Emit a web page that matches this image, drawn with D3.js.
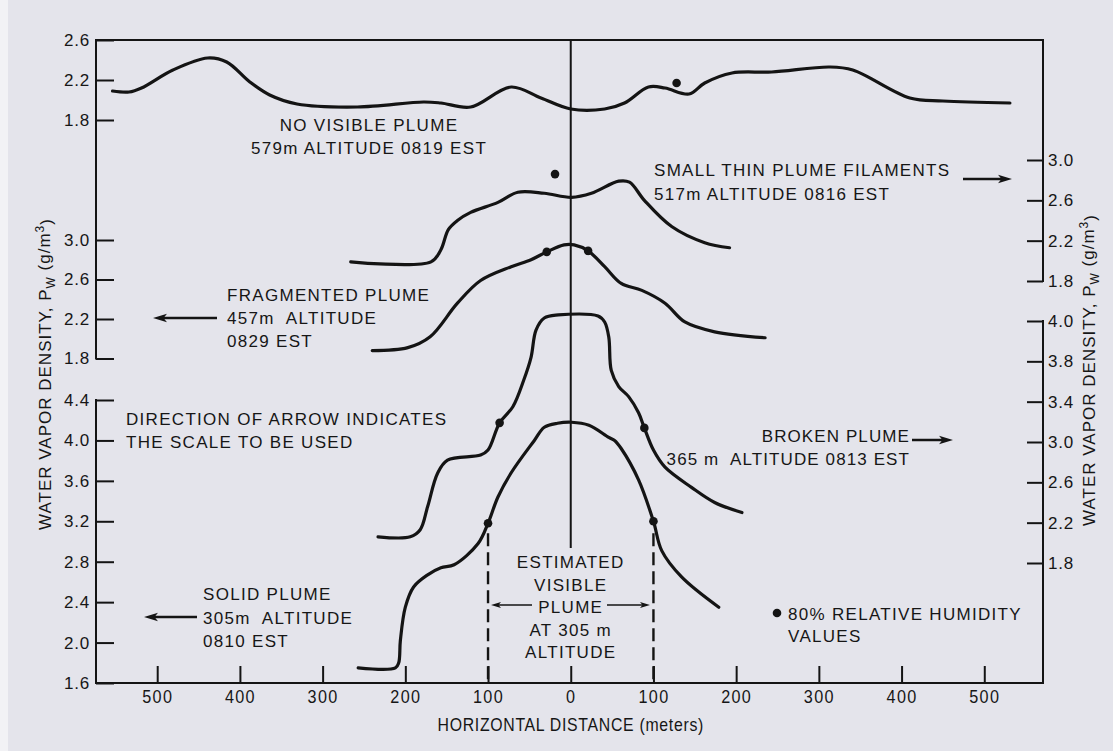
<!DOCTYPE html>
<html><head><meta charset="utf-8">
<script src="https://cdn.jsdelivr.net/npm/d3@7"></script>
<style>
html,body{margin:0;padding:0;background:#e4e4eb;}
svg{display:block;}
text{font-family:"Liberation Sans",Arial,Helvetica,sans-serif;fill:#161616;white-space:pre;}
</style></head><body>
<svg id="chart" width="1113" height="751"></svg>
<script>
// ---------- DATA (horizontal distance in m, water vapor density in g/m^3) ----------
const noVisiblePlume = [[-554,2.09],[-534,2.08],[-519,2.12],[-481,2.30],[-439,2.42],[-416,2.38],[-388,2.18],[-364,2.05],[-331,1.96],[-258,1.93],[-178,1.98],[-157,1.97],[-121,1.93],[-72,2.13],[-36,2.02],[0,1.91],[41,1.91],[65,1.97],[94,2.13],[114,2.12],[143,2.06],[162,2.17],[195,2.27],[243,2.28],[313,2.33],[341,2.30],[410,2.02],[450,1.99],[531,1.97]];
const noVisibleDots = [[128,2.17]];

const smallThinFilaments = [[-266,1.99],[-169,1.99],[-157,2.11],[-148,2.31],[-137,2.40],[-121,2.48],[-88,2.58],[-64,2.68],[-32,2.67],[1,2.63],[25,2.67],[58,2.79],[71,2.78],[89,2.60],[122,2.34],[162,2.18],[192,2.13]];
const smallThinDots = [[-19,2.86]];

const fragmentedPlume = [[-240,1.88],[-197,1.91],[-170,2.02],[-137,2.36],[-109,2.59],[-72,2.73],[-48,2.80],[-29,2.88],[-8,2.95],[4,2.95],[21,2.89],[41,2.73],[61,2.56],[86,2.49],[114,2.36],[138,2.17],[174,2.07],[235,2.01]];
const fragmentedDots = [[-29,2.88],[21,2.89]];

const brokenPlume = [[-233,2.06],[-194,2.06],[-182,2.13],[-173,2.36],[-161,2.69],[-149,2.82],[-109,2.87],[-100,2.92],[-86,3.19],[-70,3.35],[-57,3.61],[-48,3.84],[-42,4.11],[-32,4.23],[-15,4.26],[33,4.25],[41,4.19],[46,4.04],[49,3.71],[58,3.55],[70,3.45],[82,3.29],[89,3.14],[100,2.92],[114,2.75],[146,2.55],[174,2.40],[207,2.30]];
const brokenDots = [[-86,3.19],[89,3.14]];

const solidPlume = [[-257,1.75],[-212,1.75],[-208,1.80],[-206,2.02],[-200,2.35],[-190,2.55],[-173,2.67],[-157,2.74],[-141,2.77],[-112,2.98],[-100,3.18],[-88,3.44],[-72,3.68],[-44,4.00],[-32,4.13],[-16,4.17],[1,4.18],[22,4.15],[46,4.03],[53,4.00],[61,3.92],[82,3.61],[100,3.20],[110,2.91],[134,2.65],[179,2.35]];
const solidDots = [[-100,3.18],[100,3.20]];

const visiblePlumeBounds = [-100, 100];

const xTicks = [-500,-400,-300,-200,-100,0,100,200,300,400,500];
const leftTicksA = [2.6,2.2,1.8];
const leftTicksB = [3.0,2.6,2.2,1.8];
const leftTicksC = [4.4,4.0,3.6,3.2,2.8,2.4,2.0,1.6];
const rightTicksD = [3.0,2.6,2.2,1.8];
const rightTicksE = [4.2,3.8,3.4,3.0,2.6,2.2,1.8];
const rightTickLabelsE = ["4.0","3.8","3.4","3.0","2.6","2.2","1.8"];

// ---------- LAYOUT ----------
const W = 1113, H = 751;
const L = 96, R = 1043, T = 40, B = 683;
const INK = "#141414";

const svg = d3.select("#chart");
svg.append("rect").attr("width",W).attr("height",H).attr("fill","#e4e4eb");
svg.append("rect").attr("width",8).attr("height",H).attr("fill","#f2f2f5");

const x = d3.scaleLinear().domain([-574,571]).range([L,R]);
const yA = d3.scaleLinear().domain([1.8,2.6]).range([120,40]);
const yB = d3.scaleLinear().domain([1.8,3.0]).range([358.5,240]);
const yC = d3.scaleLinear().domain([1.6,4.4]).range([683,400]);
const yD = d3.scaleLinear().domain([1.8,3.0]).range([281,160]);
const yE = d3.scaleLinear().domain([1.8,4.2]).range([563,321]);

// frame lines
const frame = [
  [L,T,R,T],[L,B,R,B],
  [L,T,L,yB(1.8)],[L,yC(4.4),L,B],
  [R,T,R,yD(1.8)],[R,yE(4.2),R,B]
];
svg.append("g").selectAll("line").data(frame).join("line")
  .attr("x1",d=>d[0]).attr("y1",d=>d[1]).attr("x2",d=>d[2]).attr("y2",d=>d[3])
  .attr("stroke",INK).attr("stroke-width",2).attr("stroke-linecap","square");

function styleAxis(g, size, ls){
  g.select(".domain").remove();
  g.selectAll(".tick line").attr("stroke",INK).attr("stroke-width",2);
  g.selectAll(".tick text").attr("fill",INK).style("font-size",size+"px")
    .style("font-family",'"Liberation Sans",Arial,sans-serif').style("letter-spacing",ls+"px");
}
const f1 = d3.format(".1f");
[[yA,leftTicksA],[yB,leftTicksB],[yC,leftTicksC]].forEach(([s,t])=>{
  svg.append("g").attr("transform",`translate(${L},0)`)
    .call(d3.axisLeft(s).tickValues(t).tickFormat(f1).tickSize(-18).tickSizeOuter(0).tickPadding(6))
    .call(g=>styleAxis(g,17,0.8));
});
svg.append("g").attr("transform",`translate(${R},0)`)
  .call(d3.axisRight(yD).tickValues(rightTicksD).tickFormat(f1).tickSize(-16).tickSizeOuter(0).tickPadding(5))
  .call(g=>styleAxis(g,17,0.8));
svg.append("g").attr("transform",`translate(${R},0)`)
  .call(d3.axisRight(yE).tickValues(rightTicksE).tickFormat((d,i)=>rightTickLabelsE[i]).tickSize(-16).tickSizeOuter(0).tickPadding(5))
  .call(g=>styleAxis(g,17,0.8));
svg.append("g").attr("transform",`translate(0,${B})`)
  .call(d3.axisBottom(x).tickValues(xTicks).tickFormat(d=>Math.abs(d)).tickSize(-17).tickSizeOuter(0).tickPadding(7))
  .call(g=>styleAxis(g,18,1.5))
  .call(g=>g.selectAll(".tick text").attr("transform","scale(0.9,1)"));

// center line
svg.append("line").attr("x1",x(0)).attr("x2",x(0)).attr("y1",T).attr("y2",548)
  .attr("stroke",INK).attr("stroke-width",2);

// dashed bounds of visible plume
svg.append("g").selectAll("line").data(visiblePlumeBounds).join("line")
  .attr("x1",d=>x(d)).attr("x2",d=>x(d)).attr("y1",yC(3.2)+12).attr("y2",B)
  .attr("stroke",INK).attr("stroke-width",2.4).attr("stroke-dasharray","13,6");

// curves
const series = [
  [noVisiblePlume, yA, noVisibleDots],
  [smallThinFilaments, yD, smallThinDots],
  [fragmentedPlume, yB, fragmentedDots],
  [brokenPlume, yE, brokenDots],
  [solidPlume, yC, solidDots]
];
series.forEach(([data, ys, dots])=>{
  const line = d3.line().x(d=>x(d[0])).y(d=>ys(d[1])).curve(d3.curveCatmullRom.alpha(0.5));
  svg.append("path").datum(data).attr("d",line).attr("fill","none")
    .attr("stroke",INK).attr("stroke-width",3.2).attr("stroke-linejoin","round").attr("stroke-linecap","round");
  svg.append("g").selectAll("circle").data(dots).join("circle")
    .attr("cx",d=>x(d[0])).attr("cy",d=>ys(d[1])).attr("r",4.3).attr("fill",INK);
});

// arrows
function arrow(x1, x2, y, sw, hl, hw){
  const dir = Math.sign(x2-x1);
  svg.append("line").attr("x1",x1).attr("x2",x2-dir*hl*0.6).attr("y1",y).attr("y2",y)
    .attr("stroke",INK).attr("stroke-width",sw);
  svg.append("path").attr("d",`M${x2},${y}L${x2-dir*hl},${y-hw}L${x2-dir*hl*0.75},${y}L${x2-dir*hl},${y+hw}Z`).attr("fill",INK);
}
arrow(963,1012,179,2.6,14,4.2);
arrow(217,153,318,2.6,14,4.2);
arrow(912,953,440,2.6,14,4.2);
arrow(197,144,617,2.6,14,4.2);
arrow(532,491,605,1.5,10,3);
arrow(607,650,605,1.5,10,3);

// annotation text
function block(lines, tx, ty, dy, anchor, ls){
  const t = svg.append("text").attr("text-anchor",anchor||"start")
    .style("font-size","17px").style("letter-spacing",(ls||1.3)+"px");
  lines.forEach((s,i)=>t.append("tspan").attr("x",tx).attr("y",ty+i*dy).text(s));
}
block(["NO VISIBLE PLUME","579m ALTITUDE 0819 EST"],369,131,23,"middle");
block(["SMALL THIN PLUME FILAMENTS","517m ALTITUDE 0816 EST"],654,176,24,"start");
block(["FRAGMENTED PLUME","457m  ALTITUDE","0829 EST"],227,301,23,"start");
block(["DIRECTION OF ARROW INDICATES","THE SCALE TO BE USED"],126,425,23,"start");
block(["BROKEN PLUME","365 m  ALTITUDE 0813 EST"],910,442,23,"end",1.1);
block(["SOLID PLUME","305m  ALTITUDE","0810 EST"],203,600,23.5,"start");
block(["80% RELATIVE HUMIDITY","VALUES"],788,620,22,"start");
block(["ESTIMATED","VISIBLE","PLUME","AT 305 m","ALTITUDE"],x(0),568,22.6,"middle");
svg.append("circle").attr("cx",777).attr("cy",613).attr("r",4.3).attr("fill",INK);

// axis titles
svg.append("text").attr("transform",`translate(${x(0)},731) scale(0.88,1)`).attr("text-anchor","middle")
  .style("font-size","18px").style("letter-spacing","0.8px").text("HORIZONTAL DISTANCE (meters)");

function yTitle(tx, ty){
  const t = svg.append("text").attr("transform",`translate(${tx},${ty}) rotate(-90)`)
    .attr("text-anchor","middle").style("font-size","17px").style("letter-spacing","1px");
  t.append("tspan").text("WATER VAPOR DENSITY, P");
  t.append("tspan").attr("dy","0.3em").style("font-size","12px").text("W");
  t.append("tspan").attr("dy","-0.3em").text(" (g/m");
  t.append("tspan").attr("dy","-0.45em").style("font-size","12px").text("3");
  t.append("tspan").attr("dy","0.45em").text(")");
}
yTitle(51,374);
yTitle(1095,370);
</script>
</body></html>
